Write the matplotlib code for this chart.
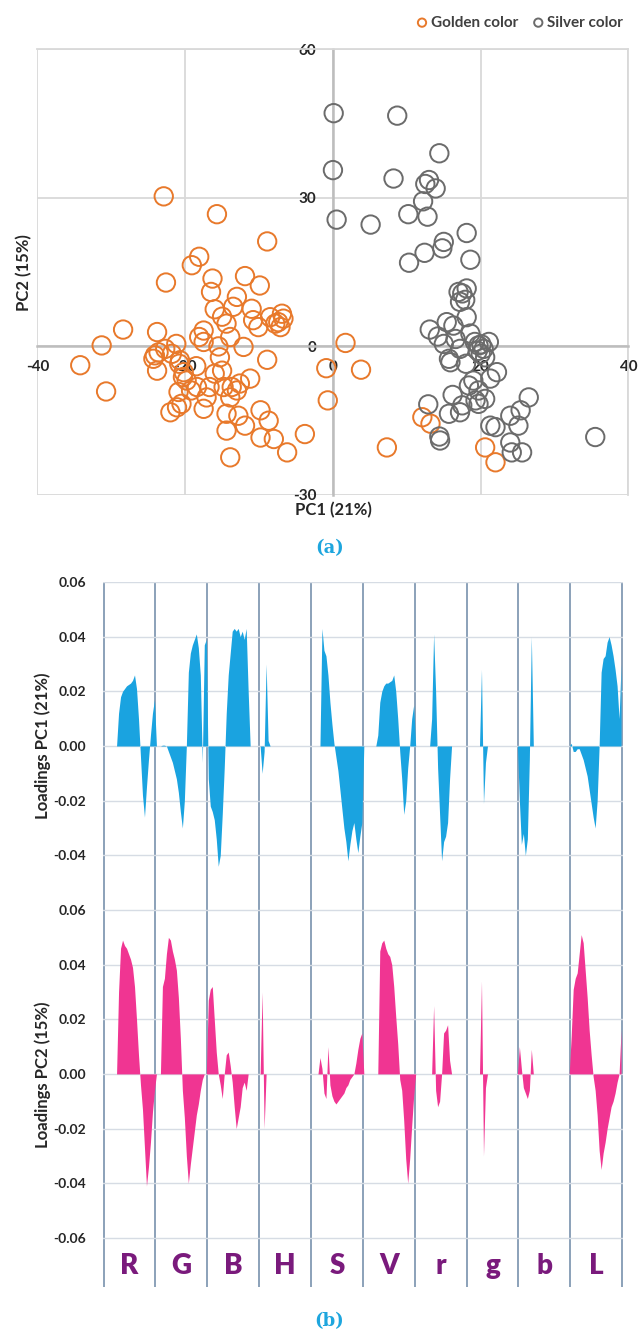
import matplotlib
matplotlib.use('Agg')
import matplotlib.pyplot as plt
import numpy as np

# ---- (a) PCA scores ----
golden_pc1 = [-22.9, -15.7, -18.1, -19.1, -16.3, -16.5, -22.6, -28.4, -31.3, -34.2, -30.7, -23.8,
              -18.1, -17.5, -23.6, -21.2, -24.3, -21.8, -20.7, -23.8, -20.2, -19.8, -20.9, -18.4,
              -22.0, -21.1, -20.5, -17.5, -17.1, -14.4, -14.4, -13.9, -15.3, -15.0, -13.7, -14.4,
              -13.9, -13.5, -13.0, -8.9, -11.9, -9.9, -11.0, -10.8, -10.1, -8.5, -6.9, -7.4,
              -6.7, -7.1, -7.8, -12.1, -8.9, -11.2, -12.6, -14.8, -13.0, -13.9, -9.8, -8.7,
              -12.8, -11.9, -9.8, -8.0, -6.2, -3.8, 1.7, -0.9, 3.8, -0.7, 7.3, 12.1,
              13.2, 20.6, 22.0, -17.5, -24.1, -22.7, -20.8, -20.3, -19.2, -16.7, -16.0, -18.5,
              -15.5, -16.0, -15.0]
golden_pc2 = [30.3, 26.7, 18.1, 16.4, 13.7, 11.0, 12.9, 3.4, 0.2, -3.8, -9.1, 2.9,
              1.9, 0.9, -1.2, 0.5, -2.5, -1.5, -2.8, -4.9, -5.2, -6.9, -9.2, -8.2,
              -13.3, -12.3, -11.6, -12.6, -10.3, -13.6, -17.0, -22.4, -2.2, -4.9, -8.2, 4.6,
              1.9, 8.0, 10.0, 21.2, 14.2, 12.3, 7.6, 5.3, 3.9, 5.9, 6.6, 4.9,
              5.6, 3.9, 4.6, -0.1, -2.7, -6.5, -7.5, -8.2, -8.9, -10.3, -12.9, -15.0,
              -14.0, -16.0, -18.4, -18.7, -21.4, -17.7, 0.7, -4.4, -4.7, -10.9, -20.4, -14.3,
              -15.6, -20.4, -23.4, 3.2, -1.8, -0.5, -3.5, -6.2, -8.9, -8.2, -5.5, -4.0,
              0.0, 7.5, 6.0]

silver_pc1 = [0.1, 8.7, 14.4, 0.0, 8.2, 13.0, 12.5, 13.9, 12.2, 0.5, 5.1, 10.2,
              12.8, 18.1, 15.0, 14.8, 12.4, 10.3, 18.6, 18.1, 17.0, 17.5, 17.9, 17.2,
              13.1, 15.4, 16.3, 18.1, 15.0, 15.7, 15.9, 17.2, 18.6, 19.7, 20.4, 21.1,
              20.0, 20.6, 22.2, 21.3, 19.0, 18.4, 19.7, 20.6, 19.3, 17.5, 15.7, 17.2,
              12.9, 19.7, 14.4, 14.5, 21.3, 22.0, 24.0, 25.4, 26.5, 25.1, 24.0, 24.2,
              25.6, 35.5, 19.2, 20.1, 19.6, 16.6, 16.2, 18.0, 14.2]
silver_pc2 = [47.1, 46.6, 39.0, 35.6, 33.9, 33.6, 32.8, 31.9, 29.3, 25.6, 24.6, 26.7,
              26.2, 22.9, 21.1, 19.8, 18.9, 16.9, 17.5, 11.7, 11.0, 10.7, 9.4, 9.0,
              3.4, 4.9, 4.2, 5.9, 0.5, -2.5, -3.2, -0.5, 2.6, 0.2, -0.5, 0.9,
              -1.5, -2.2, -5.2, -6.5, -6.9, -7.9, -8.9, -10.6, -10.9, -11.9, -13.6, -13.3,
              -11.7, -11.6, -18.2, -19.0, -16.0, -16.3, -14.0, -12.9, -10.3, -16.0, -19.4, -21.4,
              -21.4, -18.3, 0.9, 0.4, -0.9, 1.5, -9.8, -3.5, 2.0]

score_xticks = [-40, -20, 0, 20, 40]
score_yticks = [-30, 0, 30, 60]

# ---- (b) loadings, 26 samples across each colour channel ----
channels = ['R', 'G', 'B', 'H', 'S', 'V', 'r', 'g', 'b', 'L']

pc1_R = [0, 0, 0, 0, 0, 0, 0, 0.012, 0.018, 0.020, 0.021, 0.022, 0.0225,
         0.023, 0.024, 0.026, 0.021, 0.010, -0.004, -0.018, -0.026, -0.015, -0.005, 0.004, 0.012, 0.017]
pc1_G = [0, 0, 0, 0.0003, 0.0003, 0, -0.002, -0.004, -0.006, -0.009, -0.012, -0.017, -0.024,
         -0.030, -0.020, 0, 0.027, 0.034, 0.037, 0.039, 0.041, 0.036, 0.026, -0.006, 0.037, 0.039]
pc1_B = [-0.012, -0.022, -0.024, -0.027, -0.034, -0.044, -0.040, -0.025, -0.008, 0.012, 0.026, 0.034, 0.042,
         0.043, 0.042, 0.043, 0.040, 0.042, 0.039, 0.043, 0.020, 0, 0, 0, 0, 0]
pc1_H = [0, -0.010, -0.002, 0.030, 0.002, 0, 0, 0, 0, 0, 0, 0, 0,
         0, 0, 0, 0, 0, 0, 0, 0, 0, 0, 0, 0, 0]
pc1_S = [0, 0, 0, 0, 0, 0.043, 0.035, 0.033, 0.026, 0.016, 0.008, 0.001, -0.004,
         -0.009, -0.016, -0.023, -0.030, -0.035, -0.042, -0.036, -0.031, -0.028, -0.034, -0.039, -0.033, -0.028]
pc1_V = [0, 0, 0, 0, 0, 0, 0, 0.004, 0.016, 0.020, 0.022, 0.023, 0.023,
         0.0235, 0.024, 0.026, 0.020, 0.010, -0.002, -0.012, -0.025, -0.020, -0.008, 0, 0.010, 0.015]
pc1_r = [0, 0, 0, 0, 0, 0, 0, 0, 0.010, 0.041, 0.020, -0.008, -0.025,
         -0.042, -0.035, -0.033, -0.028, -0.012, 0, 0, 0, 0, 0, 0, 0, 0]
pc1_g = [0, 0, 0, 0, 0, 0, 0, 0.028, -0.021, -0.006, 0, 0, 0,
         0, 0, 0, 0, 0, 0, 0, 0, 0, 0, 0, 0, 0]
pc1_b = [-0.020, -0.036, -0.032, -0.040, -0.034, -0.005, 0.040, 0, 0, 0, 0, 0, 0,
         0, 0, 0, 0, 0, 0, 0, 0, 0, 0, 0, 0, 0]
pc1_L = [0.001, -0.002, -0.002, -0.001, -0.001, -0.003, -0.005, -0.008, -0.011, -0.016, -0.021, -0.026, -0.030,
         -0.020, 0, 0.027, 0.032, 0.033, 0.038, 0.040, 0.037, 0.033, 0.028, 0.022, 0.010, 0.030]

pc2_R = [0, 0, 0, 0, 0, 0, 0, 0.030, 0.046, 0.049, 0.047, 0.046, 0.044,
         0.042, 0.039, 0.032, 0.020, 0.007, -0.004, -0.013, -0.027, -0.041, -0.034, -0.025, -0.014, -0.006]
pc2_G = [0, 0, 0, 0.032, 0.035, 0.044, 0.050, 0.049, 0.045, 0.042, 0.038, 0.028, 0.013,
         -0.006, -0.016, -0.030, -0.040, -0.033, -0.027, -0.021, -0.015, -0.011, -0.006, -0.002, 0, 0]
pc2_B = [0.027, 0.031, 0.032, 0.020, 0.008, 0, -0.004, -0.009, 0, 0.007, 0.008, 0.003, -0.003,
         -0.012, -0.020, -0.016, -0.012, -0.005, -0.003, -0.006, 0, 0, 0, 0, 0, 0]
pc2_H = [0, 0.030, -0.020, 0, 0, 0, 0, 0, 0, 0, 0, 0, 0,
         0, 0, 0, 0, 0, 0, 0, 0, 0, 0, 0, 0, 0]
pc2_S = [0, 0, 0, 0, 0.006, 0.002, -0.007, -0.009, 0.010, -0.004, -0.008, -0.010, -0.011,
         -0.010, -0.009, -0.008, -0.007, -0.005, -0.004, -0.002, -0.001, 0, 0.004, 0.009, 0.013, 0.015]
pc2_V = [0, 0, 0, 0, 0, 0, 0, 0, 0.045, 0.048, 0.049, 0.046, 0.044,
         0.043, 0.040, 0.032, 0.021, 0.011, -0.002, -0.006, -0.017, -0.031, -0.040, -0.031, -0.019, -0.008]
pc2_r = [0, 0, 0, 0, 0, 0, 0, 0, 0, 0.025, -0.006, -0.012, -0.010,
         0, 0.015, 0.016, 0.018, 0.005, 0, 0, 0, 0, 0, 0, 0, 0]
pc2_g = [0, 0, 0, 0, 0, 0, 0, 0.034, -0.030, -0.005, 0, 0, 0,
         0, 0, 0, 0, 0, 0, 0, 0, 0, 0, 0, 0, 0]
pc2_b = [0.010, 0.002, -0.005, -0.007, -0.009, -0.006, 0.009, 0, 0, 0, 0, 0, 0,
         0, 0, 0, 0, 0, 0, 0, 0, 0, 0, 0, 0, 0]
pc2_L = [0.014, 0.031, 0.035, 0.037, 0.044, 0.051, 0.048, 0.038, 0.028, 0.016, 0.007, -0.001, -0.006,
         -0.015, -0.028, -0.035, -0.029, -0.025, -0.020, -0.016, -0.012, -0.010, -0.007, -0.003, 0, 0.016]

pc1_loadings = [pc1_R, pc1_G, pc1_B, pc1_H, pc1_S, pc1_V, pc1_r, pc1_g, pc1_b, pc1_L]
pc2_loadings = [pc2_R, pc2_G, pc2_B, pc2_H, pc2_S, pc2_V, pc2_r, pc2_g, pc2_b, pc2_L]

pc1_yticks = [0.06, 0.04, 0.02, 0.0, -0.02, -0.04, -0.06]
pc2_yticks = [0.06, 0.04, 0.02, 0.0, -0.02, -0.04, -0.06]

GOLD = '#e8792b'
SILVER = '#6b6b6b'
BLUE = '#1aa3e0'
PINK = '#f03592'
PURPLE = '#7a1a7c'
LABEL_BLUE = '#1ea6de'
TEXT = '#262626'


def draw_scores(fig):
    ax = fig.add_axes([0.0586, 0.6284, 0.9265, 0.3346])
    ax.scatter(golden_pc1, golden_pc2, s=175, facecolors='none', edgecolors=GOLD,
               linewidths=1.4, label='Golden color', zorder=3)
    ax.scatter(silver_pc1, silver_pc2, s=175, facecolors='none', edgecolors=SILVER,
               linewidths=1.4, label='Silver color', zorder=3)
    ax.set_xlim(-40, 40)
    ax.set_ylim(-30, 60)
    ax.set_xticks(score_xticks)
    ax.set_yticks(score_yticks)
    ax.grid(True, color='#d9d9d9', lw=1.3)
    ax.set_axisbelow(True)
    for side in ['left', 'bottom']:
        ax.spines[side].set_position(('data', 0))
        ax.spines[side].set_color('#bdbdbd')
        ax.spines[side].set_linewidth(1.8)
    for side in ['top', 'right']:
        ax.spines[side].set_color('#d9d9d9')
        ax.spines[side].set_linewidth(1.3)
    ax.tick_params(length=0, labelsize=11, labelcolor=TEXT)
    ax.tick_params(axis='x', pad=10)
    ax.tick_params(axis='y', pad=12)
    for lab in ax.get_xticklabels() + ax.get_yticklabels():
        lab.set_fontweight('bold')

    ax.text(0.5, -0.034, 'PC1 (21%)', transform=ax.transAxes, ha='center', va='center',
            fontsize=12, fontweight='bold', color=TEXT)
    ax.text(-0.023, 0.5, 'PC2 (15%)', transform=ax.transAxes, ha='center', va='center',
            rotation=90, fontsize=12, fontweight='bold', color=TEXT)

    fig.legend(loc='center right', bbox_to_anchor=(0.977, 0.983), ncol=2, frameon=False,
               markerscale=0.45, handletextpad=0.1, columnspacing=0.8, handlelength=1.0,
               borderpad=0, borderaxespad=0,
               prop={'size': 11, 'weight': 'bold'}, labelcolor='#404040')


def draw_loadings(ax, series, color, yticks, ylabels, ylim):
    x = []
    y = []
    for c, vals in enumerate(series):
        n = len(vals)
        x.extend(c + (np.arange(n) + 0.5) / n)
        y.extend(vals)
    ax.fill_between(x, 0, y, color=color, lw=0)
    ax.set_xlim(-0.012, len(series) + 0.012)
    ax.set_ylim(*ylim)
    ax.set_xticks(range(len(series) + 1))
    ax.set_yticks(yticks)
    ax.set_yticklabels(ylabels)
    ax.xaxis.grid(True, color='#6c88a6', lw=1.1)
    ax.yaxis.grid(True, color='#d6dce4', lw=1.0)
    ax.set_axisbelow(True)
    for s in ax.spines.values():
        s.set_visible(False)
    ax.tick_params(length=0, labelbottom=False, labelsize=10, labelcolor=TEXT, pad=12)
    for lab in ax.get_yticklabels():
        lab.set_fontweight('bold')


def main():
    plt.rcParams['font.family'] = ['Lato', 'DejaVu Sans']
    plt.rcParams['axes.unicode_minus'] = False

    fig = plt.figure(figsize=(6.38, 13.32), dpi=100)
    draw_scores(fig)
    fig.text(0.517, 0.5886, '(a)', ha='center', va='center', color=LABEL_BLUE,
             fontsize=13, fontweight='bold', family='DejaVu Serif')

    ax1 = fig.add_axes([0.1614, 0.3168, 0.8146, 0.2463])
    draw_loadings(ax1, pc1_loadings, BLUE, pc1_yticks,
                  ['%.2f' % v for v in pc1_yticks[:-1]] + [''], (-0.06, 0.06))
    ax1.set_ylabel('Loadings PC1 (21%)', fontsize=12, fontweight='bold', color=TEXT)
    ax1.yaxis.set_label_coords(-0.100, 0.5)

    ax2 = fig.add_axes([0.1614, 0.0338, 0.8146, 0.2830])
    draw_loadings(ax2, pc2_loadings, PINK, pc2_yticks,
                  ['%.2f' % v for v in pc2_yticks], (-0.078, 0.06))
    ax2.set_ylabel('Loadings PC2 (15%)', fontsize=12, fontweight='bold', color=TEXT)
    ax2.yaxis.set_label_coords(-0.100, 0.562)
    for c, name in enumerate(channels):
        ax2.text(c + 0.5, -0.0705, name, ha='center', va='center', fontsize=20,
                 fontweight='heavy', color=PURPLE)

    fig.text(0.516, 0.0083, '(b)', ha='center', va='center', color=LABEL_BLUE,
             fontsize=13, fontweight='bold', family='DejaVu Serif')

    fig.savefig('out.png', dpi=100)


if __name__ == '__main__':
    main()
